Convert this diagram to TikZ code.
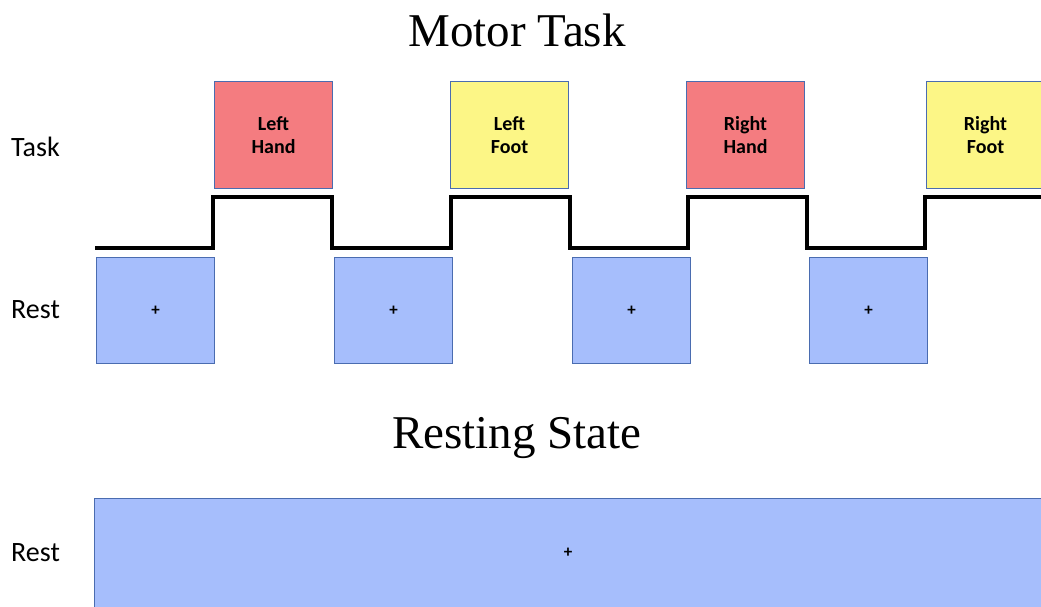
\documentclass[tikz,border=0pt]{standalone}
\usepackage{fontspec}
\setmainfont{Carlito}
\newfontfamily\titlefont{Liberation Serif}
\definecolor{handred}{RGB}{244,124,128}
\definecolor{footyellow}{RGB}{252,246,134}
\definecolor{restblue}{RGB}{166,190,252}
\definecolor{edgeblue}{RGB}{74,108,176}
\begin{document}
\begin{tikzpicture}[x=1pt,y=-1pt,
  blockbox/.style={draw=edgeblue,line width=1pt,minimum width=118pt,minimum height=107pt,inner sep=0pt,anchor=north west,
    font=\fontsize{20}{23.5}\selectfont\bfseries,align=center},
  handbox/.style={blockbox,fill=handred},
  footbox/.style={blockbox,fill=footyellow},
  restbox/.style={blockbox,fill=restblue,minimum height=106pt,font=\fontsize{17}{17}\selectfont\bfseries},
  rowlabel/.style={font=\fontsize{28}{28}\selectfont,anchor=west,inner sep=0pt},
  heading/.style={font=\titlefont\fontsize{47}{47}\selectfont,inner sep=0pt},
  wave/.style={line width=4pt,line join=miter}]
\useasboundingbox (0,0) rectangle (1041,606);
\clip (0,0) rectangle (1041,606);

% headings
\node[heading] (title1) at (517,30) {Motor Task};
\node[heading] (title2) at (517,438) {Resting State};

% row labels
\node[rowlabel] (tasklbl) at (11,147) {Task};
\node[rowlabel] (restlbl) at (11,310) {Rest};
\node[rowlabel] (restlbl2) at (11,553) {Rest};

% task blocks
\node[handbox] (lh) at (214,81) {Left\\Hand};
\node[footbox] (lf) at (450,81) {Left\\Foot};
\node[handbox] (rh) at (686,81) {Right\\Hand};
\node[footbox] (rf) at (926,81) {Right\\Foot};

% rest blocks
\node[restbox] (r1) at (96,257) {+};
\node[restbox] (r2) at (334,257) {+};
\node[restbox] (r3) at (572,257) {+};
\node[restbox] (r4) at (809,257) {+};

% block design waveform
\draw[wave] (95,248) -- (213,248) -- (213,197) -- (332,197) -- (332,248)
  -- (451,248) -- (451,197) -- (570,197) -- (570,248)
  -- (688,248) -- (688,197) -- (807,197) -- (807,248)
  -- (925,248) -- (925,197) -- (1045,197);

% resting state block
\node[restbox,minimum width=960pt,minimum height=120pt] (rs) at (94,498) {};
\node[font=\fontsize{17}{17}\selectfont\bfseries,inner sep=0pt] (rsplus) at (568,553) {+};
\end{tikzpicture}
\end{document}
